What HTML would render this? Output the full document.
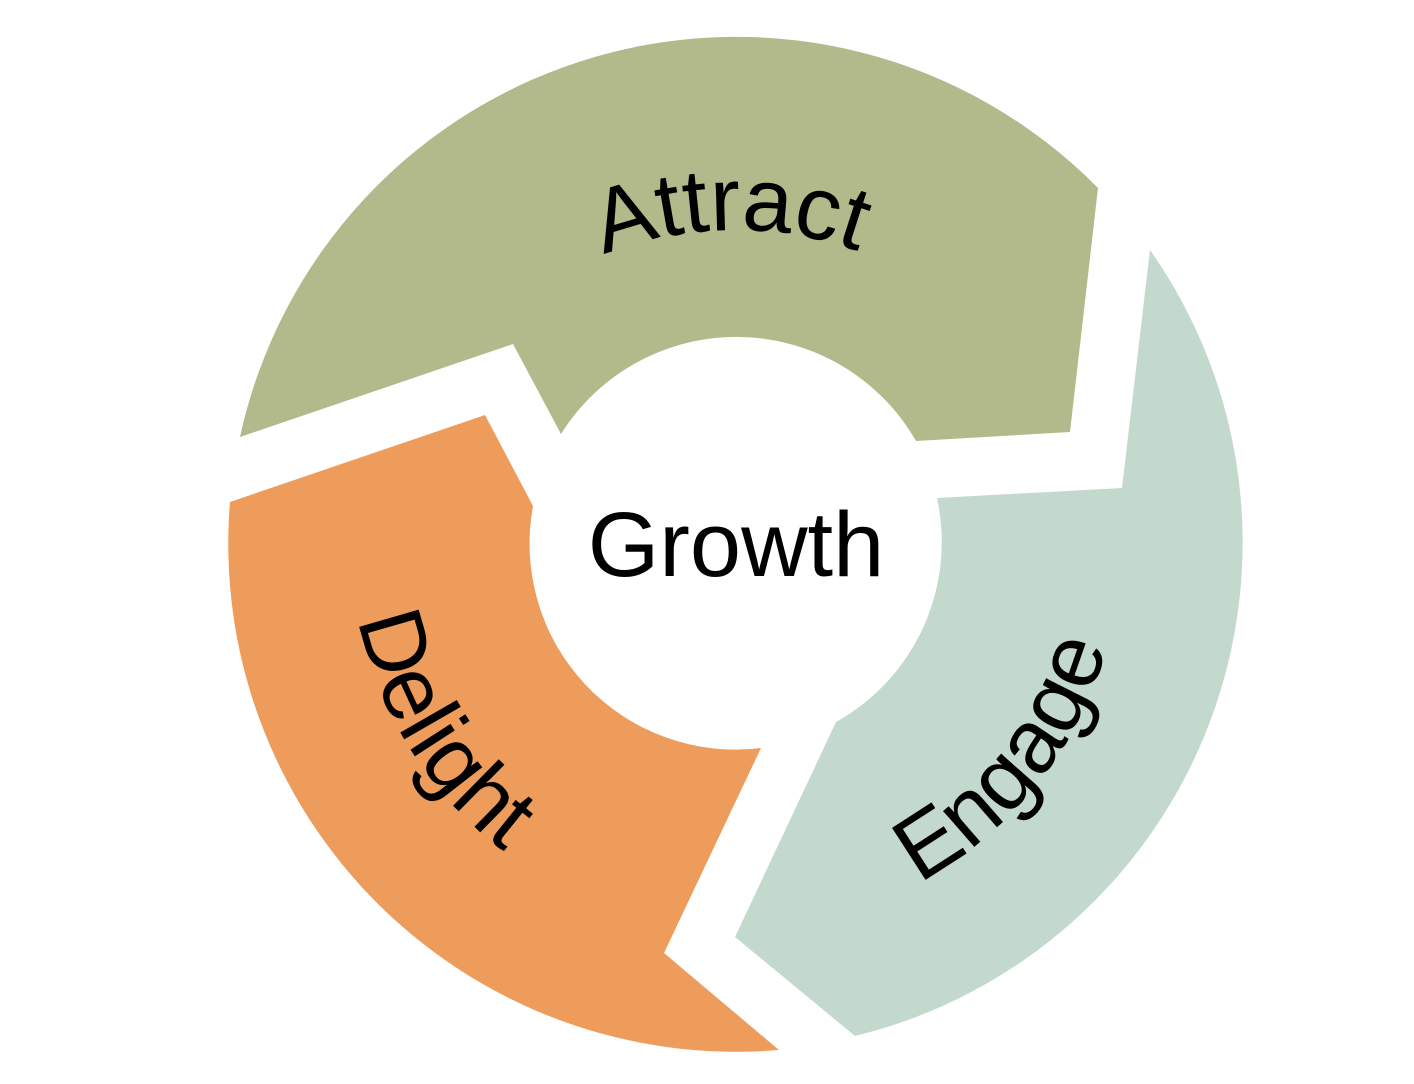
<!DOCTYPE html>
<html><head><style>html,body{margin:0;padding:0;background:#fff}svg{display:block}</style></head>
<body>
<svg width="1414" height="1084" viewBox="0 0 1414 1084" xmlns="http://www.w3.org/2000/svg">
<defs>
<path id="cw" d="M376,590 A360,360 0 0 1 1096,590"/>
<path id="ccw" d="M351,544 A385,385 0 0 0 1121,544"/>
</defs>
<path d="M240,437 A508,508 0 0 1 1098,188 L1070,432 L916,441 A207,207 0 0 0 561,434 L513,344 Z" fill="#b2b98a"/>
<path d="M1150,250 A508,508 0 0 1 855,1036 L735,937 L836,722 A206,206 0 0 0 937,498 L1122,488 Z" fill="#c3d9cd"/>
<path d="M779,1050 A508,508 0 0 1 230,502 L485,415 L533,506 A206,206 0 0 0 761,748 L664,953 Z" fill="#ee9c5c"/>
<g font-family="Liberation Sans, sans-serif" font-size="90" fill="#000">
<text text-anchor="middle"><textPath href="#cw" startOffset="560">Attract</textPath></text>
<text text-anchor="middle"><textPath href="#ccw" startOffset="216">Delight</textPath></text>
<text text-anchor="middle"><textPath href="#ccw" startOffset="950">Engage</textPath></text>
<text x="736" y="576" text-anchor="middle" font-size="92">Growth</text>
</g>
</svg>
</body></html>
